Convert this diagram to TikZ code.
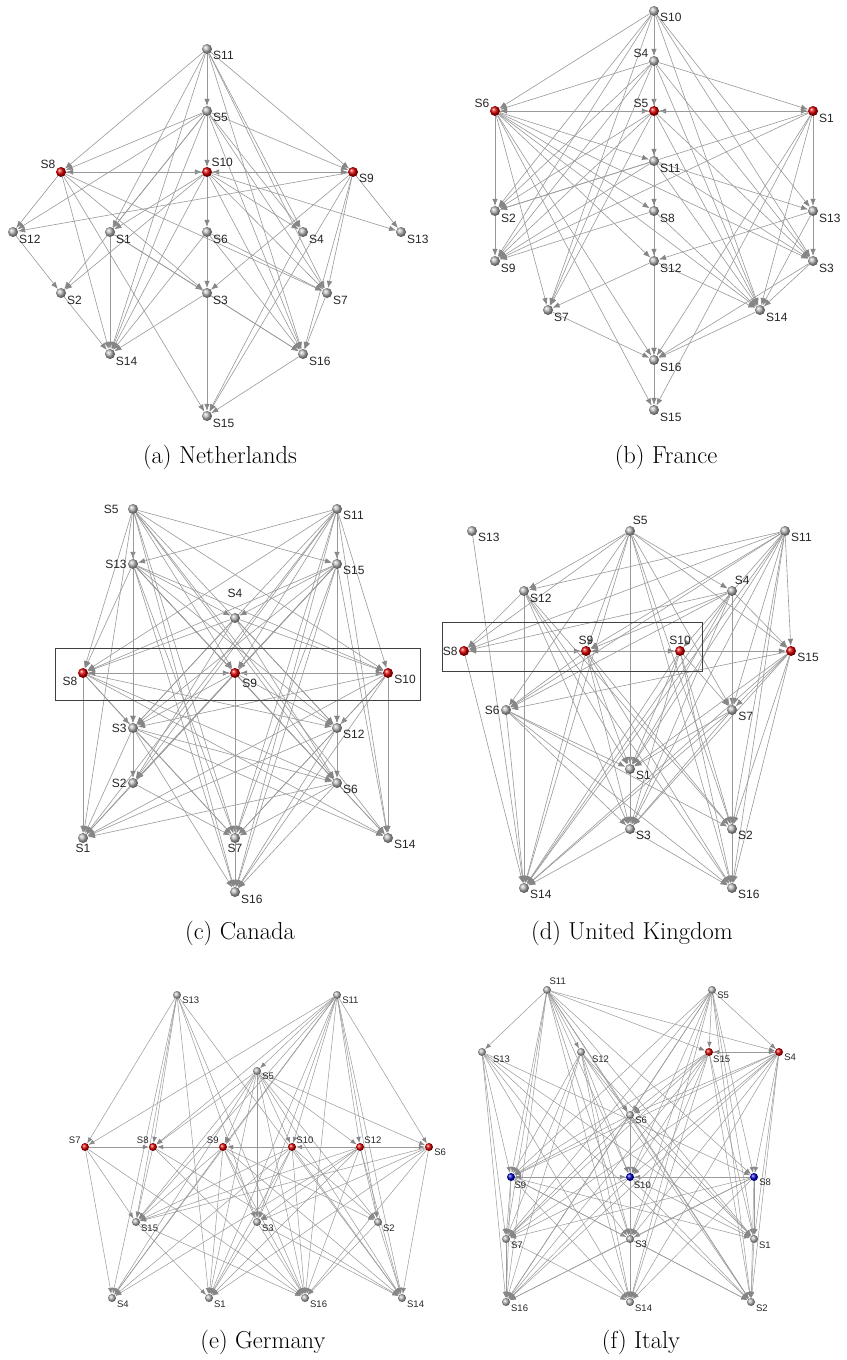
\documentclass[tikz,border=0pt]{standalone}
\usepackage{fontspec}
\newfontfamily\lblfont{Liberation Sans}
\usetikzlibrary{arrows.meta,backgrounds}

\tikzset{
  ball/.style={circle, inner sep=0pt, minimum size=10pt, ball color=gray!55},
  rball/.style={ball, ball color=red!85!black},
  bball/.style={ball, ball color=blue!80!black},
  lbl/.style={font=\lblfont\fontsize{12}{12}\selectfont, text=black!85, inner sep=1pt},
  edge/.style={draw=gray!80, line width=0.6pt, -{Latex[length=7pt,width=5.5pt,color=gray!95]}},
  frame/.style={draw=black!75, line width=0.8pt},
  subcap/.style={font=\fontsize{24.5}{29}\selectfont}
}

\begin{document}
\begin{tikzpicture}[x=1pt, y=-1pt]
  \useasboundingbox (0,0) rectangle (846,1360);
  \begin{scope}[on background layer]
    \fill[white] (0,0) rectangle (846,1360);
  \end{scope}

  % (a) Netherlands
  \node[ball, label={[lbl]-15:S11}] (a11) at (207,49) {};
  \node[ball, label={[lbl]-15:S5}] (a5) at (207,111) {};
  \node[rball, label={[lbl]150:S8}] (a8) at (61,172) {};
  \node[rball, label={[lbl]50:S10}] (a10) at (207,172) {};
  \node[rball, label={[lbl]-15:S9}] (a9) at (353,172) {};
  \node[ball, label={[lbl]-20:S12}] (a12) at (13,232) {};
  \node[ball, label={[lbl]-20:S1}] (a1) at (110,232) {};
  \node[ball, label={[lbl]-20:S6}] (a6) at (207,232) {};
  \node[ball, label={[lbl]-20:S4}] (a4) at (303,232) {};
  \node[ball, label={[lbl]-20:S13}] (a13) at (401,232) {};
  \node[ball, label={[lbl]-20:S2}] (a2) at (61,293) {};
  \node[ball, label={[lbl]-20:S3}] (a3) at (207,293) {};
  \node[ball, label={[lbl]-20:S7}] (a7) at (327,293) {};
  \node[ball, label={[lbl]-25:S14}] (a14) at (110,354) {};
  \node[ball, label={[lbl]-20:S16}] (a16) at (303,354) {};
  \node[ball, label={[lbl]-25:S15}] (a15) at (207,416) {};
  \begin{scope}[on background layer]
    \foreach \s/\t in {11/5,11/8,11/9,11/1,11/14,11/4,11/7,11/16,
      5/10,5/8,5/12,5/9,5/1,5/14,5/2,5/4,5/7,5/16,
      8/10,10/8,8/12,8/14,8/15,8/7,8/3,
      9/10,10/9,10/6,10/1,10/2,10/14,10/4,10/13,10/16,10/7,
      9/13,9/12,9/7,9/16,9/15,9/3,
      12/2,2/14,1/14,1/3,1/16,6/3,6/7,6/14,6/16,
      3/15,3/14,3/16,4/15,7/16,16/15}
      \draw[edge] (a\s) -- (a\t);
  \end{scope}
  \node[subcap] (capa) at (220,457) {(a) Netherlands};

  % (b) France
  \node[ball, label={[lbl]-15:S10}] (b10) at (654,11) {};
  \node[ball, label={[lbl]150:S4}] (b4) at (654,61) {};
  \node[rball, label={[lbl]150:S6}] (b6) at (495,111) {};
  \node[rball, label={[lbl]150:S5}] (b5) at (654,111) {};
  \node[rball, label={[lbl]-20:S1}] (b1) at (813,111) {};
  \node[ball, label={[lbl]-20:S11}] (b11) at (654,161) {};
  \node[ball, label={[lbl]-20:S2}] (b2) at (495,211) {};
  \node[ball, label={[lbl]-20:S8}] (b8) at (654,211) {};
  \node[ball, label={[lbl]-20:S13}] (b13) at (813,211) {};
  \node[ball, label={[lbl]-25:S9}] (b9) at (495,261) {};
  \node[ball, label={[lbl]-20:S12}] (b12) at (654,261) {};
  \node[ball, label={[lbl]-20:S3}] (b3) at (813,261) {};
  \node[ball, label={[lbl]-20:S7}] (b7) at (548,310) {};
  \node[ball, label={[lbl]-20:S14}] (b14) at (760,310) {};
  \node[ball, label={[lbl]-20:S16}] (b16) at (654,360) {};
  \node[ball, label={[lbl]-20:S15}] (b15) at (654,410) {};
  \begin{scope}[on background layer]
    \foreach \s/\t in {10/4,10/6,10/2,10/9,10/7,10/13,10/3,10/14,
      4/5,4/6,4/1,4/2,4/9,4/7,4/14,4/3,4/16,
      6/5,5/6,6/2,6/11,6/8,6/12,6/3,6/14,6/16,6/15,6/7,
      1/5,5/1,5/11,5/2,5/9,5/7,5/14,5/3,
      1/13,1/2,1/9,1/16,1/14,1/15,
      11/8,11/2,11/9,11/13,11/14,11/3,
      2/9,8/12,8/9,8/14,13/3,13/12,13/14,12/16,12/7,12/14,
      3/14,3/16,7/16,14/16,16/15}
      \draw[edge] (b\s) -- (b\t);
  \end{scope}
  \node[subcap] (capb) at (666,457) {(b) France};

  % (c) Canada
  \node[ball, label={[lbl,label distance=8pt]180:S5}] (c5) at (133,509) {};
  \node[ball, label={[lbl]-15:S11}] (c11) at (337,509) {};
  \node[ball, label={[lbl]180:S13}] (c13) at (133,564) {};
  \node[ball, label={[lbl]-15:S15}] (c15) at (337,564) {};
  \node[ball, label={[lbl,label distance=14pt]90:S4}] (c4) at (235,618) {};
  \node[rball, label={[lbl]-150:S8}] (c8) at (83,673) {};
  \node[rball, label={[lbl,label distance=3pt]-40:S9}] (c9) at (235,673) {};
  \node[rball, label={[lbl]-10:S10}] (c10) at (388,673) {};
  \node[ball, label={[lbl]180:S3}] (c3) at (133,728) {};
  \node[ball, label={[lbl]-15:S12}] (c12) at (337,728) {};
  \node[ball, label={[lbl]180:S2}] (c2) at (133,783) {};
  \node[ball, label={[lbl]-15:S6}] (c6) at (337,783) {};
  \node[ball, label={[lbl]-90:S1}] (c1) at (83,838) {};
  \node[ball, label={[lbl]-90:S7}] (c7) at (235,838) {};
  \node[ball, label={[lbl]-15:S14}] (c14) at (388,838) {};
  \node[ball, label={[lbl]-20:S16}] (c16) at (235,892) {};
  \draw[frame] (55,648) rectangle (420,700);
  \begin{scope}[on background layer]
    \foreach \s/\t in {5/13,5/15,5/8,5/9,5/10,5/3,5/12,5/6,5/7,5/16,5/1,5/14,
      11/15,11/13,11/8,11/9,11/10,11/3,11/2,11/7,11/16,11/14,11/1,11/12,
      13/3,13/8,13/4,13/9,13/10,13/12,13/6,13/7,13/16,13/14,
      15/12,15/4,15/8,15/9,15/3,15/2,15/7,15/16,15/1,15/14,
      4/8,4/10,4/3,4/12,4/2,4/6,
      8/9,9/8,9/10,10/9,8/10,10/8,
      8/3,8/12,8/1,8/6,8/14,8/7,
      9/7,9/3,9/2,9/12,9/6,9/16,
      10/3,10/12,10/14,10/1,10/7,10/16,
      3/2,3/6,3/1,3/14,3/16,3/7,
      12/6,12/1,12/7,12/16,2/1,2/7,6/1,6/14,6/7,6/16}
      \draw[edge] (c\s) -- (c\t);
  \end{scope}
  \node[subcap] (capc) at (240,933) {(c) Canada};

  % (d) United Kingdom
  \node[ball, label={[lbl]-15:S13}] (d13) at (472,531) {};
  \node[ball, label={[lbl]70:S5}] (d5) at (630,531) {};
  \node[ball, label={[lbl]-15:S11}] (d11) at (785,531) {};
  \node[ball, label={[lbl]-20:S12}] (d12) at (524,591) {};
  \node[ball, label={[lbl]70:S4}] (d4) at (732,591) {};
  \node[rball, label={[lbl]180:S8}] (d8) at (464,651) {};
  \node[rball, label={[lbl]90:S9}] (d9) at (586,651) {};
  \node[rball, label={[lbl]90:S10}] (d10) at (680,651) {};
  \node[rball, label={[lbl]-10:S15}] (d15) at (791,651) {};
  \node[ball, label={[lbl]180:S6}] (d6) at (506,710) {};
  \node[ball, label={[lbl]-10:S7}] (d7) at (732,710) {};
  \node[ball, label={[lbl]-15:S1}] (d1) at (630,769) {};
  \node[ball, label={[lbl]-15:S3}] (d3) at (630,829) {};
  \node[ball, label={[lbl]-15:S2}] (d2) at (732,829) {};
  \node[ball, label={[lbl]-15:S14}] (d14) at (524,888) {};
  \node[ball, label={[lbl]-15:S16}] (d16) at (732,888) {};
  \draw[frame] (442,622) rectangle (702,671);
  \begin{scope}[on background layer]
    \foreach \s/\t in {13/14,
      5/12,5/4,5/8,5/9,5/15,5/1,5/3,5/6,5/7,5/2,5/16,5/14,
      11/12,11/8,11/9,11/10,11/15,11/7,11/6,11/1,11/3,11/2,11/16,11/14,
      12/8,12/14,12/1,12/3,12/2,12/16,
      4/9,4/15,4/7,4/6,4/1,4/3,4/14,4/2,4/16,4/8,
      8/9,9/8,9/10,10/9,10/15,8/14,
      9/1,9/3,9/14,9/16,9/2,9/6,
      10/7,10/1,10/3,10/14,10/16,10/2,
      15/7,15/6,15/1,15/3,15/2,15/16,15/14,
      6/1,6/3,6/2,6/16,6/14,7/2,7/1,7/3,7/14,3/14,3/16,2/16}
      \draw[edge] (d\s) -- (d\t);
  \end{scope}
  \node[subcap] (capd) at (632,933) {(d) United Kingdom};

  \begin{scope}[ball/.append style={minimum size=8pt},
      lbl/.append style={font=\lblfont\fontsize{9.5}{9.5}\selectfont},
      edge/.append style={line width=0.5pt, -{Latex[length=6pt,width=4.5pt,color=gray!95]}}]
  % (e) Germany
  \node[ball, label={[lbl]-15:S13}] (e13) at (177,995) {};
  \node[ball, label={[lbl]-15:S11}] (e11) at (337,995) {};
  \node[ball, label={[lbl]-15:S5}] (e5) at (257,1071) {};
  \node[rball, label={[lbl]140:S7}] (e7) at (85,1147) {};
  \node[rball, label={[lbl]140:S8}] (e8) at (153,1147) {};
  \node[rball, label={[lbl]140:S9}] (e9) at (223,1147) {};
  \node[rball, label={[lbl]40:S10}] (e10) at (292,1147) {};
  \node[rball, label={[lbl]40:S12}] (e12) at (360,1147) {};
  \node[rball, label={[lbl]-10:S6}] (e6) at (429,1147) {};
  \node[ball, label={[lbl]-20:S15}] (e15) at (136,1222) {};
  \node[ball, label={[lbl]-20:S3}] (e3) at (257,1222) {};
  \node[ball, label={[lbl]-20:S2}] (e2) at (378,1222) {};
  \node[ball, label={[lbl]-20:S4}] (e4) at (112,1298) {};
  \node[ball, label={[lbl]-20:S1}] (e1) at (209,1298) {};
  \node[ball, label={[lbl]-20:S16}] (e16) at (305,1298) {};
  \node[ball, label={[lbl]-20:S14}] (e14) at (402,1298) {};
  \begin{scope}[on background layer]
    \foreach \s/\t in {13/7,13/8,13/15,13/1,13/3,13/16,13/14,13/4,
      11/5,11/7,11/8,11/9,11/10,11/12,11/6,11/15,11/3,11/2,11/1,11/16,11/14,11/4,
      5/8,5/9,5/10,5/12,5/6,5/15,5/3,5/4,5/1,5/16,5/14,5/2,
      7/8,7/15,7/4,7/16,9/8,10/9,12/10,12/6,
      8/15,8/16,8/14,
      9/15,9/4,9/1,9/3,9/16,9/14,9/2,
      10/15,10/3,10/1,10/16,10/14,10/2,10/4,
      12/15,12/3,12/2,12/1,12/16,12/14,12/4,
      6/15,6/3,6/1,6/16,6/14,
      15/1,15/16,3/14,3/16,3/1,2/16,2/14}
      \draw[edge] (e\s) -- (e\t);
  \end{scope}
  \node[subcap] (cape) at (263,1342) {(e) Germany};

  % (f) Italy
  \node[ball, label={[lbl]70:S11}] (f11) at (547,990) {};
  \node[ball, label={[lbl]-15:S5}] (f5) at (712,990) {};
  \node[ball, label={[lbl,label distance=6pt]-15:S13}] (f13) at (482,1052) {};
  \node[ball, label={[lbl,label distance=6pt]-15:S12}] (f12) at (581,1052) {};
  \node[rball, label={[lbl]-45:S15}] (f15) at (709,1052) {};
  \node[rball, label={[lbl]-5:S4}] (f4) at (779,1052) {};
  \node[ball, label={[lbl]-10:S6}] (f6) at (630,1115) {};
  \node[bball, label={[lbl]-55:S9}] (f9) at (511,1177) {};
  \node[bball, label={[lbl]-50:S10}] (f10) at (630,1177) {};
  \node[bball, label={[lbl]-10:S8}] (f8) at (754,1177) {};
  \node[ball, label={[lbl]-20:S7}] (f7) at (506,1239) {};
  \node[ball, label={[lbl]-15:S3}] (f3) at (630,1239) {};
  \node[ball, label={[lbl]-20:S1}] (f1) at (754,1239) {};
  \node[ball, label={[lbl]-20:S16}] (f16) at (506,1302) {};
  \node[ball, label={[lbl]-20:S14}] (f14) at (630,1302) {};
  \node[ball, label={[lbl]-20:S2}] (f2) at (751,1302) {};
  \begin{scope}[on background layer]
    \foreach \s/\t in {11/13,11/12,11/15,11/4,11/9,11/7,11/16,11/6,11/10,11/3,11/14,11/1,11/2,11/8,
      5/15,5/4,5/9,5/6,5/10,5/7,5/3,5/16,5/14,5/1,5/2,5/8,
      13/9,13/7,13/16,13/3,13/14,13/1,13/2,13/8,
      12/6,12/9,12/7,12/16,12/10,12/3,12/14,12/1,12/2,
      4/15,15/4,15/6,15/9,15/7,15/16,15/10,15/3,15/14,15/1,15/2,
      4/6,4/9,4/7,4/16,4/10,4/8,4/1,4/2,4/3,4/14,
      6/9,6/10,6/7,6/16,6/3,6/14,6/1,6/2,
      9/10,10/9,8/10,8/9,
      9/7,9/16,9/3,9/14,9/1,9/2,
      10/7,10/3,10/1,10/16,10/14,10/2,
      8/7,8/3,8/1,8/16,8/14,8/2,
      7/16,7/14,3/16,3/14,3/2,1/2}
      \draw[edge] (f\s) -- (f\t);
  \end{scope}
  \node[subcap] (capf) at (641,1342) {(f) Italy};
  \end{scope}
\end{tikzpicture}
\end{document}
